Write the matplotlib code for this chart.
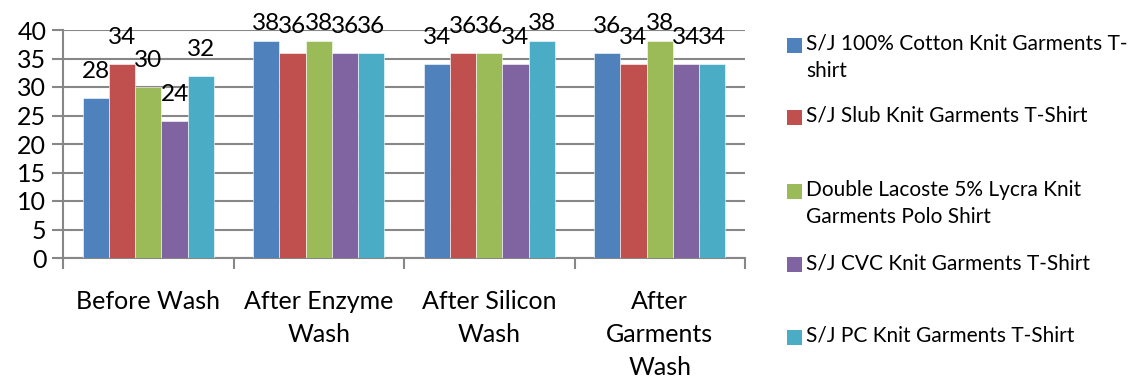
import matplotlib
matplotlib.use("Agg")
import matplotlib.pyplot as plt
import numpy as np
from matplotlib.patches import Rectangle

categories = ["Before Wash", "After Enzyme\nWash", "After Silicon\nWash", "After\nGarments\nWash"]
series_names = [
    "S/J 100% Cotton Knit Garments T-\nshirt",
    "S/J Slub Knit Garments T-Shirt",
    "Double Lacoste 5% Lycra Knit\nGarments Polo Shirt",
    "S/J CVC Knit Garments T-Shirt",
    "S/J PC Knit Garments T-Shirt",
]
cotton = [28, 38, 34, 36]
slub = [34, 36, 36, 34]
lacoste = [30, 38, 36, 38]
cvc = [24, 36, 34, 34]
pc = [32, 36, 38, 34]
series_values = [cotton, slub, lacoste, cvc, pc]
colors = ["#4F81BD", "#C0504D", "#9BBB59", "#8064A2", "#4BACC6"]
yticks = [0, 5, 10, 15, 20, 25, 30, 35, 40]

plt.rcParams['font.family'] = ['Lato', 'DejaVu Sans']

W, H = 1135, 379
fig = plt.figure(figsize=(W / 100, H / 100), dpi=100)
ax = fig.add_axes([63 / W, 1 - 258 / H, (745 - 63) / W, (258 - 30) / H])

n = len(series_values)
bw = 0.154
x = np.arange(len(categories))
grid_c = "#878787"
for i, (vals, c) in enumerate(zip(series_values, colors)):
    pos = x + (i - (n - 1) / 2) * bw
    ax.bar(pos, vals, width=bw, color=c, edgecolor="white", linewidth=0.4, zorder=3)
    for p, v in zip(pos, vals):
        ax.text(p, min(v + 3.5, 40.0), str(v), ha="center", va="baseline",
                fontsize=17.5, color="black", zorder=4)

ax.set_xlim(-0.5, len(categories) - 0.5)
ax.set_ylim(0, 40)
ax.set_yticks(yticks)
ax.set_yticklabels([str(t) for t in yticks], fontsize=18)
ax.yaxis.grid(True, color=grid_c, linewidth=1.5, zorder=0)
ax.set_axisbelow(True)

ax.set_xticks(np.arange(len(categories) + 1) - 0.5)
ax.set_xticklabels([])
ax.set_xticks(x, minor=True)
ax.set_xticklabels(categories, minor=True, fontsize=18, linespacing=1.52)
ax.tick_params(axis="x", which="minor", length=0, pad=23)
ax.tick_params(axis="x", which="major", length=8, width=1.5, color=grid_c)
ax.tick_params(axis="y", length=8, width=1.5, color=grid_c, pad=4)

for s in ["top", "right"]:
    ax.spines[s].set_visible(False)
for s in ["left", "bottom"]:
    ax.spines[s].set_color(grid_c)
    ax.spines[s].set_linewidth(1.5)

# legend
first_line_y = [46, 118, 192, 265, 338]
for name, c, yy in zip(series_names, colors, first_line_y):
    fig.add_artist(Rectangle((787 / W, 1 - (yy + 7) / H), 15 / W, 15 / H,
                             transform=fig.transFigure, facecolor=c, edgecolor="none"))
    fig.text(806 / W, 1 - (yy - 12) / H, name, ha="left", va="top", fontsize=15,
             linespacing=1.42, color="black")

fig.savefig("out.png", dpi=100)
